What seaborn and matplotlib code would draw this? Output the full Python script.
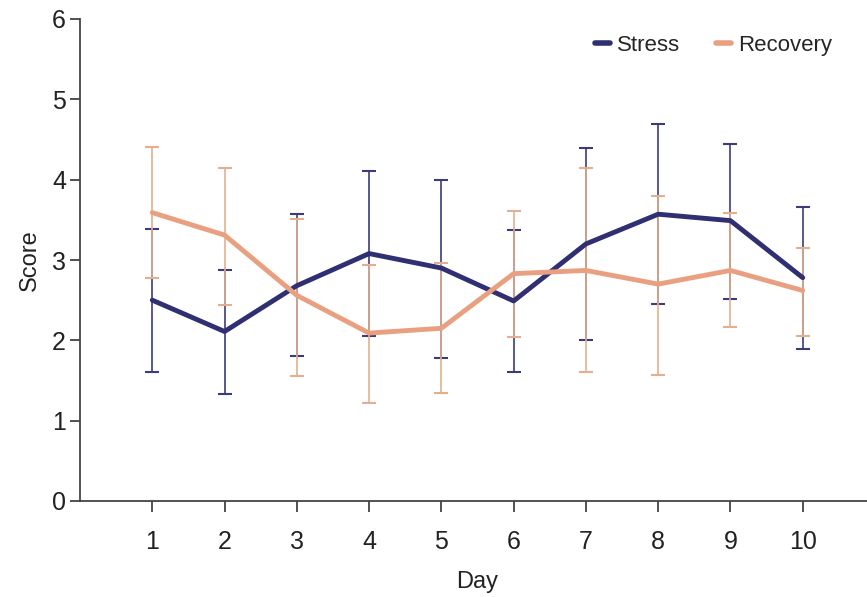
import numpy as np
import pandas as pd
import matplotlib
matplotlib.use("Agg")
import matplotlib.pyplot as plt
import seaborn as sns

days = [1, 2, 3, 4, 5, 6, 7, 8, 9, 10]
stress = [2.50, 2.11, 2.68, 3.08, 2.90, 2.49, 3.20, 3.57, 3.49, 2.78]
stress_low = [1.61, 1.33, 1.80, 2.05, 1.78, 1.60, 2.00, 2.45, 2.51, 1.89]
stress_high = [3.39, 2.88, 3.57, 4.11, 3.99, 3.37, 4.40, 4.69, 4.45, 3.66]
recovery = [3.59, 3.31, 2.56, 2.09, 2.15, 2.83, 2.87, 2.70, 2.87, 2.62]
recovery_low = [2.77, 2.44, 1.56, 1.22, 1.34, 2.04, 1.60, 1.57, 2.17, 2.05]
recovery_high = [4.41, 4.15, 3.51, 2.94, 2.96, 3.61, 4.15, 3.80, 3.59, 3.15]
series_names = ["Stress", "Recovery"]
yticks = [0, 1, 2, 3, 4, 5, 6]

sns.set_style("ticks")
fams = ["Liberation Sans", "DejaVu Sans"]
plt.rcParams["font.family"] = fams

line_colors = {"Stress": "#2f2f72", "Recovery": "#e9a081"}
err_colors = {"Stress": "#3c3c7a", "Recovery": "#e2b08e"}

df = pd.DataFrame({
    "Day": days * 2,
    "Score": stress + recovery,
    "Series": ["Stress"] * len(days) + ["Recovery"] * len(days),
})

fig = plt.figure(figsize=(8.67, 5.97), dpi=100)
ax = fig.add_axes([80 / 867, (597 - 501) / 597, 795 / 867, 482 / 597])

for name, vals, lo, hi in [("Stress", stress, stress_low, stress_high),
                           ("Recovery", recovery, recovery_low, recovery_high)]:
    v = np.array(vals)
    yerr = np.vstack([v - np.array(lo), np.array(hi) - v])
    ax.errorbar(days, v, yerr=yerr, fmt="none", ecolor=err_colors[name],
                elinewidth=1.2, capsize=5, capthick=1.5, zorder=2)

sns.lineplot(data=df, x="Day", y="Score", hue="Series", hue_order=series_names,
             palette=line_colors, linewidth=3.5, ax=ax, zorder=3, legend=True)

ax.set_xlim(0, 11)
ax.set_ylim(0, 6)
ax.set_xticks(days)
ax.set_xticklabels([str(d) for d in days])
ax.set_yticks(yticks)
ax.set_yticklabels([str(t) for t in yticks])
ax.tick_params(axis="both", labelsize=18, direction="out", width=1.2, colors="#333333",
               labelcolor="#222222")
ax.tick_params(axis="x", length=8, pad=13)
ax.tick_params(axis="y", length=7, pad=3)
ax.set_xlabel("Day", fontsize=17, color="#222222", labelpad=12)
ax.set_ylabel("Score", fontsize=17, color="#222222", labelpad=8)
for s in ["top", "right"]:
    ax.spines[s].set_visible(False)
for s in ["left", "bottom"]:
    ax.spines[s].set_color("#444444")
    ax.spines[s].set_linewidth(1.3)

leg = ax.legend(loc="center right", bbox_to_anchor=(0.957, 0.946),
                frameon=False, fontsize=16, handlelength=0.7, handletextpad=0.3,
                columnspacing=1.6, ncol=2, borderaxespad=0.0)
for h in leg.get_lines():
    h.set_linewidth(4)

fig.savefig("out.png", dpi=100)
